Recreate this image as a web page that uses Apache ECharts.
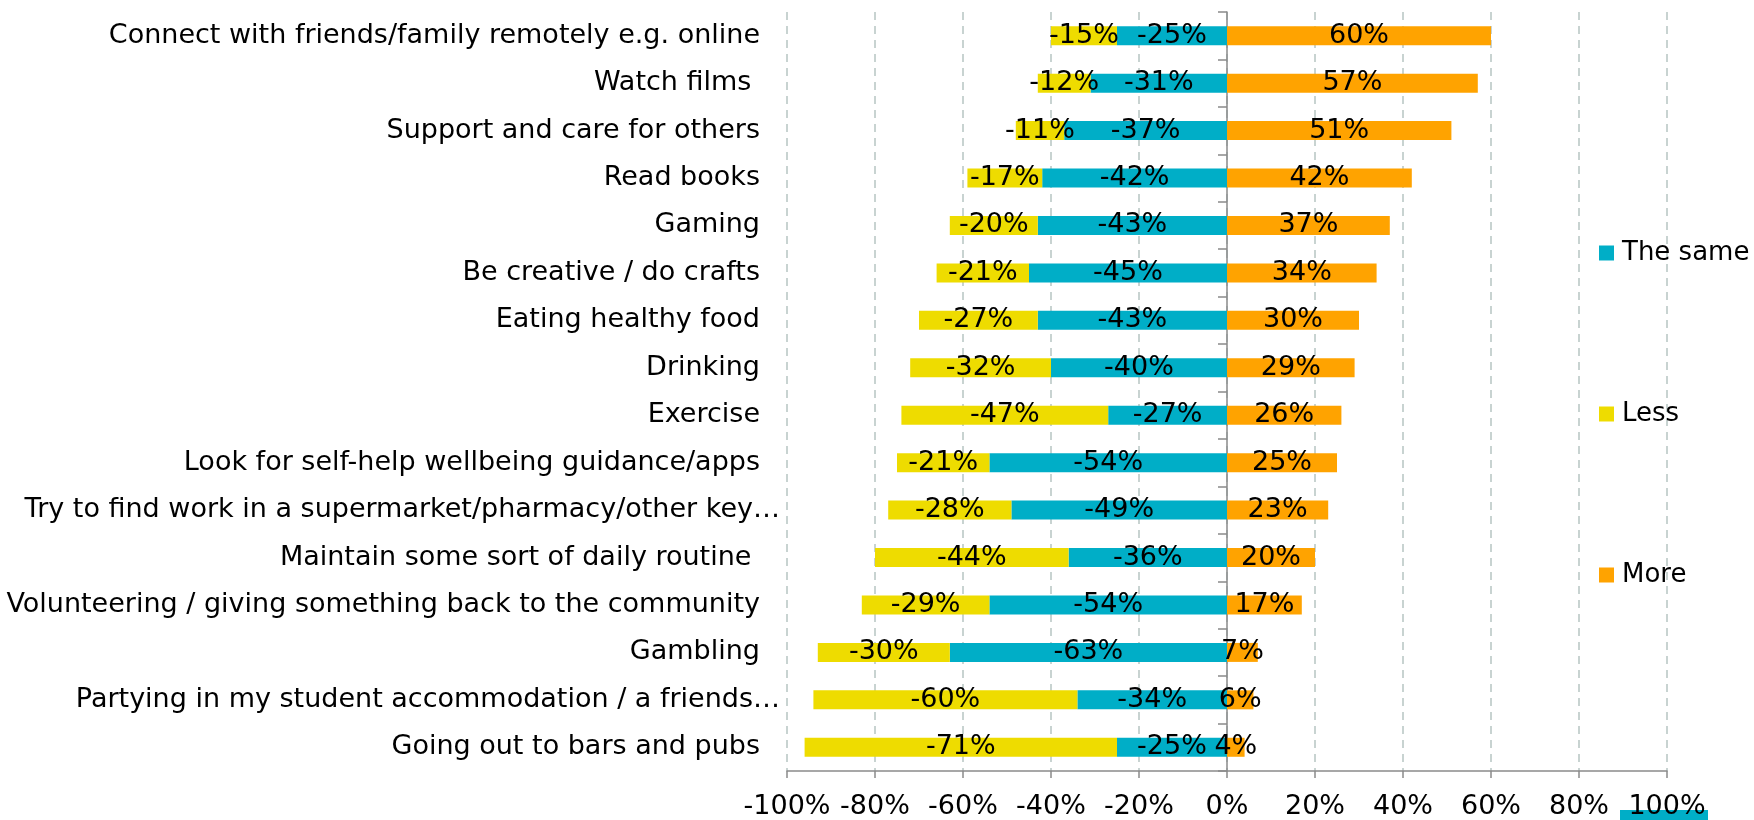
<!DOCTYPE html>
<html>
<head>
<meta charset="utf-8">
<title>Activities: more, the same or less</title>
<script src="https://cdn.jsdelivr.net/npm/echarts@6/dist/echarts.min.js"></script>
<style>
  html, body { margin: 0; padding: 0; background: #ffffff; }
  #chart { width: 1754px; height: 820px; }
</style>
</head>
<body>
<div id="chart"></div>
<script>
// Activities, listed top to bottom
const categories = [
  'Connect with friends/family remotely e.g. online',
  'Watch films ',
  'Support and care for others',
  'Read books',
  'Gaming',
  'Be creative / do crafts',
  'Eating healthy food',
  'Drinking',
  'Exercise',
  'Look for self-help wellbeing guidance/apps',
  'Try to find work in a supermarket/pharmacy/other key\u2026',
  'Maintain some sort of daily routine ',
  'Volunteering / giving something back to the community',
  'Gambling',
  'Partying in my student accommodation / a friends\u2026',
  'Going out to bars and pubs'
];

// Shares in percent; "The same" and "Less" are plotted to the left of zero
const sameValues = [-25, -31, -37, -42, -43, -45, -43, -40, -27, -54, -49, -36, -54, -63, -34, -25];
const lessValues = [-15, -12, -11, -17, -20, -21, -27, -32, -47, -21, -28, -44, -29, -30, -60, -71];
const moreValues = [60, 57, 51, 42, 37, 34, 30, 29, 26, 25, 23, 20, 17, 7, 6, 4];

const seriesNames = ['The same', 'Less', 'More'];
const tickValues = [-100, -80, -60, -40, -20, 0, 20, 40, 60, 80, 100];

const FONT = 'DejaVu Sans';
const FS = 27;
const COLORS = { same: '#00AEC7', less: '#EEDC00', more: '#FFA300' };

const chart = echarts.init(document.getElementById('chart'), null, { renderer: 'canvas' });

const valueLabel = {
  show: true,
  position: 'inside',
  color: '#000',
  fontFamily: FONT,
  fontSize: FS,
  formatter: p => p.value + '%'
};

function legendAt(name, top) {
  return {
    data: [name],
    left: 1599,
    top: top,
    padding: 0,
    orient: 'vertical',
    itemWidth: 15,
    itemHeight: 15,
    itemGap: 0,
    icon: 'rect',
    selectedMode: false,
    textStyle: { fontFamily: FONT, fontSize: 26, color: '#000', padding: [0, 0, 0, 3] }
  };
}

const option = {
  backgroundColor: '#ffffff',
  animation: false,
  legend: [
    legendAt(seriesNames[0], 240),
    legendAt(seriesNames[1], 401),
    legendAt(seriesNames[2], 562)
  ],
  grid: { left: 787, right: 87, top: 12, bottom: 48, containLabel: false },
  xAxis: {
    type: 'value',
    min: tickValues[0],
    max: tickValues[tickValues.length - 1],
    interval: 20,
    axisLine: { show: true, onZero: false, lineStyle: { color: '#8a8a8a', width: 1.5 } },
    axisTick: { show: true, length: 7, lineStyle: { color: '#8a8a8a', width: 1.5 } },
    axisLabel: {
      margin: 22,
      color: '#000',
      fontFamily: FONT,
      fontSize: FS,
      formatter: v => v + '%'
    },
    splitLine: {
      show: true,
      lineStyle: { color: '#b7c5c2', width: 1.5, type: [8, 6] }
    }
  },
  yAxis: [
    {
      // category names on the far left
      type: 'category',
      data: categories,
      inverse: true,
      position: 'left',
      axisLine: { show: false, onZero: false },
      axisTick: { show: false },
      axisLabel: {
        margin: 27,
        color: '#000',
        fontFamily: FONT,
        fontSize: FS,
        formatter: v => v.endsWith('\u2026') ? '{k|' + v + '}' : v,
        rich: {
          k: { fontFamily: FONT, fontSize: FS, color: '#000', padding: [0, -20, 0, 0] }
        }
      },
      splitLine: { show: false }
    },
    {
      // zero line with category ticks
      type: 'category',
      data: categories,
      inverse: true,
      position: 'left',
      axisLine: { show: true, onZero: true, lineStyle: { color: '#8a8a8a', width: 1.5 } },
      axisTick: { show: true, length: 9, lineStyle: { color: '#8a8a8a', width: 1.5 } },
      axisLabel: { show: false },
      splitLine: { show: false }
    }
  ],
  series: [
    {
      name: seriesNames[0],
      type: 'bar',
      stack: 'total',
      barWidth: 19,
      data: sameValues,
      itemStyle: { color: COLORS.same },
      label: valueLabel
    },
    {
      name: seriesNames[1],
      type: 'bar',
      stack: 'total',
      barWidth: 19,
      data: lessValues,
      itemStyle: { color: COLORS.less },
      label: valueLabel
    },
    {
      name: seriesNames[2],
      type: 'bar',
      stack: 'total',
      barWidth: 19,
      data: moreValues,
      itemStyle: { color: COLORS.more },
      label: valueLabel
    }
  ],
  graphic: [
    {
      type: 'rect',
      left: 1620,
      top: 810,
      shape: { width: 88, height: 12 },
      style: { fill: COLORS.same },
      z: -1
    }
  ]
};

chart.setOption(option);
</script>
</body>
</html>
